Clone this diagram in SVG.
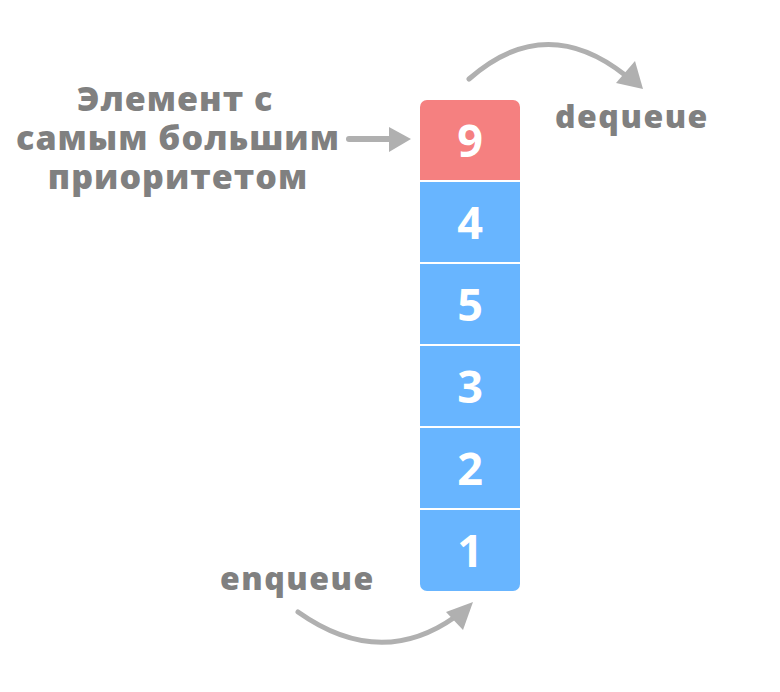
<svg xmlns="http://www.w3.org/2000/svg" width="780" height="692" viewBox="0 0 780 692">
<style>
.lbl{font-family:"Open Sans","Noto Sans","DejaVu Sans",sans-serif;font-weight:800;fill:#808080}
.num{font-family:"Open Sans","Noto Sans","DejaVu Sans",sans-serif;font-weight:700;fill:#ffffff;font-size:45px;text-anchor:middle}
.arc{fill:none;stroke:#b0b0b0;stroke-width:5;stroke-linecap:round}
.head{fill:#b0b0b0}
</style>
<defs>
<clipPath id="col"><rect x="420" y="100" width="100" height="491" rx="7" ry="7"/></clipPath>
</defs>
<rect width="780" height="692" fill="#ffffff"/>
<g id="label-priority" class="lbl" font-size="34" text-anchor="middle" letter-spacing="1">
<text x="175" y="111">Элемент с</text>
<text x="178" y="150">самым большим</text>
<text x="178" y="189">приоритетом</text>
</g>
<g id="queue" clip-path="url(#col)">
<g id="cell-9"><rect x="420" y="100" width="100" height="80" fill="#f58080"/><text class="num" x="470" y="157">9</text></g>
<g id="cell-4"><rect x="420" y="182" width="100" height="80" fill="#68b5ff"/><text class="num" x="470" y="239">4</text></g>
<g id="cell-5"><rect x="420" y="264" width="100" height="80" fill="#68b5ff"/><text class="num" x="470" y="321">5</text></g>
<g id="cell-3"><rect x="420" y="346" width="100" height="80" fill="#68b5ff"/><text class="num" x="470" y="403">3</text></g>
<g id="cell-2"><rect x="420" y="428" width="100" height="80" fill="#68b5ff"/><text class="num" x="470" y="485">2</text></g>
<g id="cell-1"><rect x="420" y="510" width="100" height="81" fill="#68b5ff"/><text class="num" x="470" y="567">1</text></g>
</g>
<g id="label-dequeue"><text class="lbl" x="555" y="128" font-size="32" letter-spacing="1.5">dequeue</text></g>
<g id="label-enqueue"><text class="lbl" x="220" y="590" font-size="32" letter-spacing="1.5">enqueue</text></g>
<g id="connectors">
<line x1="349" y1="139" x2="392" y2="139" stroke="#b0b0b0" stroke-width="6" stroke-linecap="round"/>
<polygon class="head" points="389,127 411,139 389,152"/>
<path class="arc" d="M469,79 Q545,12 625,75"/>
<polygon class="head" points="616,83 635,61 643,89"/>
<path class="arc" d="M298,612 Q380,670 455,617"/>
<polygon class="head" points="446,612 463,630 473,602"/>
</g>
</svg>
